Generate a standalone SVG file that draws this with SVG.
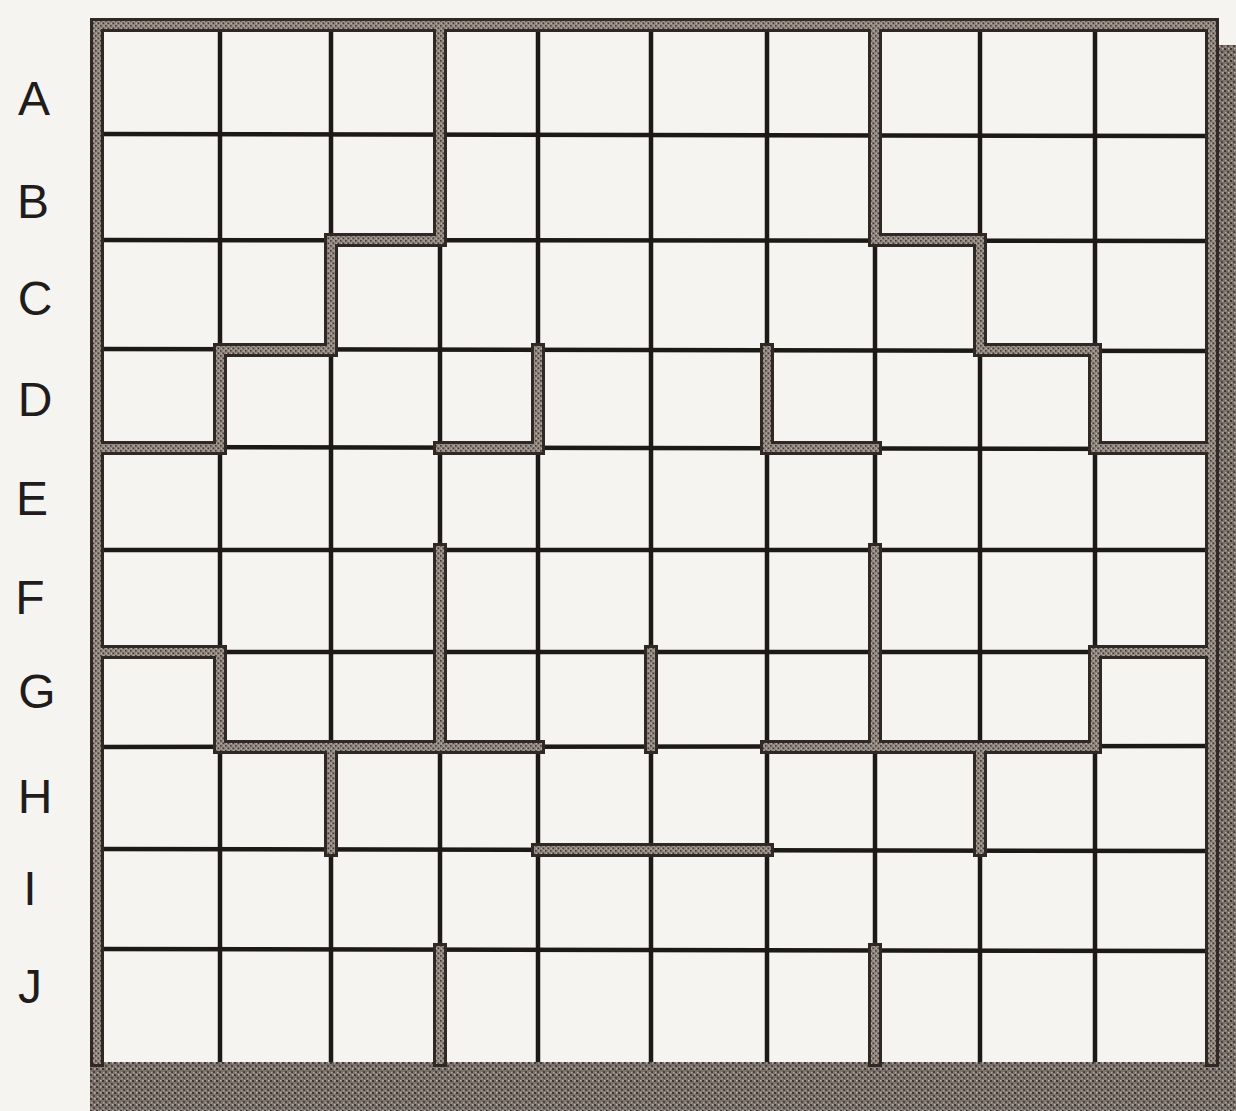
<svg xmlns="http://www.w3.org/2000/svg" width="1236" height="1111" viewBox="0 0 1236 1111">
  <defs>
    <pattern id="stip" width="5" height="5" patternUnits="userSpaceOnUse">
      <rect width="5" height="5" fill="#928981"/>
      <rect x="0" y="0" width="1.6" height="1.6" fill="#443c38"/>
      <rect x="2.5" y="2.5" width="1.6" height="1.6" fill="#443c38"/>
      <rect x="3.5" y="0.5" width="1" height="1" fill="#d2cbc4"/>
      <rect x="1" y="3.2" width="1" height="1" fill="#c4bcb5"/>
    </pattern>
    <pattern id="shade" width="6" height="6" patternUnits="userSpaceOnUse">
      <rect width="6" height="6" fill="#7b726b"/>
      <rect x="0" y="0" width="2" height="2" fill="#3e3733"/>
      <rect x="3" y="3" width="2" height="2" fill="#4a423d"/>
      <rect x="4" y="0" width="1.5" height="1.5" fill="#bdb4ac"/>
      <rect x="1" y="4" width="1.5" height="1.5" fill="#aaa199"/>
      <rect x="2.5" y="1.5" width="1" height="1" fill="#5a514b"/>
    </pattern>
    <style>
      .grid { stroke: #1d1917; stroke-width: 4.5; fill: none; stroke-linecap: square; }
      .wallEdge { stroke: #2f2825; stroke-width: 14; fill: none; stroke-linejoin: miter; stroke-linecap: square; }
      .wallFill { stroke: url(#stip); stroke-width: 8; fill: none; stroke-linejoin: miter; stroke-linecap: square; }
      .lbl { font-family: "Liberation Sans", Arial, sans-serif; font-size: 48px; fill: #1f1c1b; text-anchor: middle; }
    </style>
  </defs>

  <rect width="1236" height="1111" fill="#f5f4f0"/>

  <!-- shadow bands -->
  <g id="shadow">
    <rect x="1217" y="45" width="19" height="1066" fill="url(#shade)"/>
    <rect x="90" y="1062" width="1146" height="49" fill="url(#shade)"/>
  </g>

  <!-- thin grid lines -->
  <g id="grid" class="grid">
    <line x1="220" y1="25" x2="220" y2="1060"/>
    <line x1="331" y1="25" x2="331" y2="1060"/>
    <line x1="440" y1="25" x2="440" y2="1060"/>
    <line x1="538" y1="25" x2="538" y2="1060"/>
    <line x1="651" y1="25" x2="651" y2="1060"/>
    <line x1="767" y1="25" x2="767" y2="1060"/>
    <line x1="875" y1="25" x2="875" y2="1060"/>
    <line x1="980" y1="25" x2="980" y2="1060"/>
    <line x1="1095" y1="25" x2="1095" y2="1060"/>
    <line x1="97" y1="134" x2="1212" y2="136"/>
    <line x1="97" y1="240" x2="1212" y2="241"/>
    <line x1="97" y1="349" x2="1212" y2="351"/>
    <line x1="97" y1="447" x2="1212" y2="449"/>
    <line x1="97" y1="550" x2="1212" y2="550"/>
    <line x1="97" y1="652" x2="1212" y2="652"/>
    <line x1="97" y1="747" x2="1212" y2="746"/>
    <line x1="97" y1="849" x2="1212" y2="851"/>
    <line x1="97" y1="949" x2="1212" y2="951"/>
  </g>

  <!-- thick walls and border -->
  <g id="walls">
    <g class="wallEdge">
      <path d="M97,1060 V25 H1212 V1060"/>
      <path d="M440,25 V240 H331 V350 H220 V448 H97"/>
      <path d="M440,448 H538 V350"/>
      <path d="M875,25 V240 H980 V350 H1095 V448 H1212"/>
      <path d="M767,350 V448 H875"/>
      <path d="M97,652 H220 V747 H538"/>
      <path d="M440,550 V747"/>
      <path d="M331,747 V850"/>
      <path d="M651,652 V747"/>
      <path d="M875,550 V747"/>
      <path d="M767,747 H1095 V652 H1212"/>
      <path d="M980,747 V850"/>
      <path d="M538,850 H767"/>
      <path d="M440,950 V1060"/>
      <path d="M875,950 V1060"/>
    </g>
    <g class="wallFill">
      <path d="M97,1060 V25 H1212 V1060"/>
      <path d="M440,25 V240 H331 V350 H220 V448 H97"/>
      <path d="M440,448 H538 V350"/>
      <path d="M875,25 V240 H980 V350 H1095 V448 H1212"/>
      <path d="M767,350 V448 H875"/>
      <path d="M97,652 H220 V747 H538"/>
      <path d="M440,550 V747"/>
      <path d="M331,747 V850"/>
      <path d="M651,652 V747"/>
      <path d="M875,550 V747"/>
      <path d="M767,747 H1095 V652 H1212"/>
      <path d="M980,747 V850"/>
      <path d="M538,850 H767"/>
      <path d="M440,950 V1060"/>
      <path d="M875,950 V1060"/>
    </g>
  </g>

  <!-- row labels -->
  <g id="labels" class="lbl">
    <text x="34" y="115">A</text>
    <text x="33" y="218">B</text>
    <text x="35" y="315">C</text>
    <text x="35" y="416">D</text>
    <text x="32" y="515">E</text>
    <text x="30" y="614">F</text>
    <text x="37" y="708">G</text>
    <text x="35" y="813">H</text>
    <text x="30" y="905">I</text>
    <text x="30" y="1003">J</text>
  </g>
</svg>
